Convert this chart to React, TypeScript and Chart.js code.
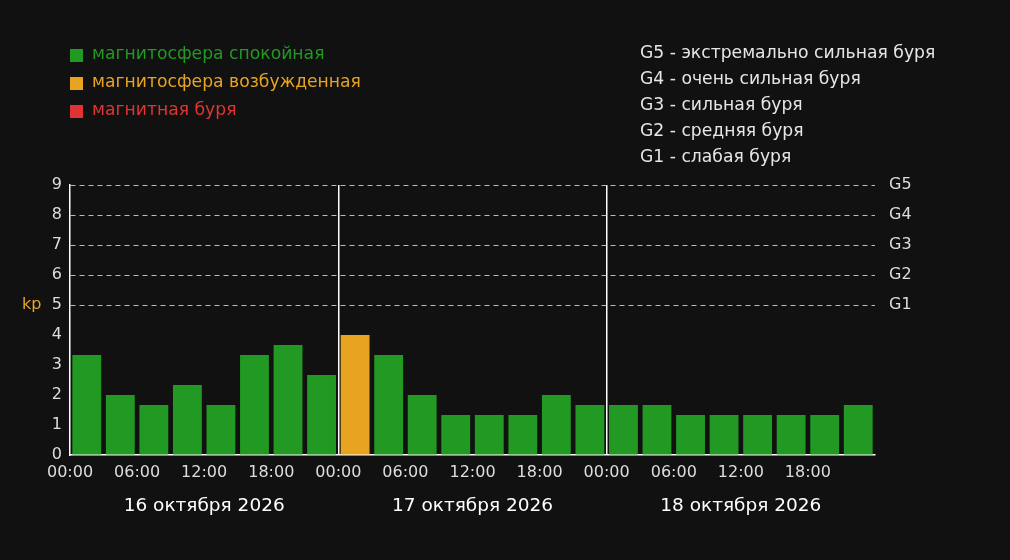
import React, { useEffect, useRef } from "react";
import { Chart, registerables } from "chart.js";

Chart.register(...registerables);

// Three-hour Kp index, three days of 8 intervals each
const kpValues = [
  3.33, 2, 1.67, 2.33, 1.67, 3.33, 3.67, 2.67,
  4, 3.33, 2, 1.33, 1.33, 1.33, 2, 1.67,
  1.67, 1.67, 1.33, 1.33, 1.33, 1.33, 1.33, 1.67,
];
const timeLabels = ["00:00", "06:00", "12:00", "18:00"];
const dayLabels = ["16 октября 2026", "17 октября 2026", "18 октября 2026"];
const stormLevels = ["G1", "G2", "G3", "G4", "G5"]; // kp 5..9
const stateLabels = ["магнитосфера спокойная", "магнитосфера возбужденная", "магнитная буря"];
const stateColors = ["#229922", "#e8a321", "#e03434"];
const stormLegend = [
  "G5 - экстремально сильная буря",
  "G4 - очень сильная буря",
  "G3 - сильная буря",
  "G2 - средняя буря",
  "G1 - слабая буря",
];

const FONT = "'DejaVu Sans', 'Noto Sans', sans-serif";
const BG = "#111111";

const colorFor = (v: number) => (v >= 5 ? stateColors[2] : v >= 4 ? stateColors[1] : stateColors[0]);

const overlay = {
  id: "kpOverlay",
  afterDraw(chart: any) {
    const { ctx } = chart;
    const x = chart.scales.x;
    const y = chart.scales.y;
    ctx.save();
    ctx.font = `17.2px ${FONT}`;
    ctx.textAlign = "left";
    ctx.textBaseline = "alphabetic";
    // state legend
    stateLabels.forEach((t, i) => {
      ctx.fillStyle = stateColors[i];
      ctx.fillRect(70, 49 + i * 28, 13, 13);
      ctx.fillText(t, 92, 59 + i * 28);
    });
    // storm scale legend
    ctx.fillStyle = "#e6e6e6";
    stormLegend.forEach((t, i) => ctx.fillText(t, 640, 58 + i * 26));
    // kp axis label
    ctx.font = `16px ${FONT}`;
    ctx.fillStyle = stateColors[1];
    ctx.textBaseline = "middle";
    ctx.fillText("kp", 22, y.getPixelForValue(5));
    // day labels
    ctx.fillStyle = "#ffffff";
    ctx.font = `18.5px ${FONT}`;
    ctx.textAlign = "center";
    ctx.textBaseline = "alphabetic";
    dayLabels.forEach((t, d) => ctx.fillText(t, x.getPixelForValue(4 + d * 8), 511));
    ctx.restore();
  },
};

export default function App() {
  const ref = useRef<HTMLCanvasElement | null>(null);

  useEffect(() => {
    if (!ref.current) return;
    Chart.defaults.font.family = FONT;
    const chart = new Chart(ref.current, {
      type: "bar",
      data: {
        datasets: [
          {
            data: kpValues.map((v, i) => ({ x: i + 0.5, y: v })),
            backgroundColor: kpValues.map(colorFor),
            barPercentage: 0.86,
            categoryPercentage: 1,
          },
        ],
      },
      options: {
        animation: false,
        responsive: false,
        maintainAspectRatio: false,
        layout: { padding: { top: 185, left: 0, right: 0, bottom: 0 } },
        plugins: { legend: { display: false }, tooltip: { enabled: false } },
        scales: {
          x: {
            type: "linear",
            min: 0,
            max: 24,
            offset: false,
            afterFit: (s: any) => {
              s.height = 105;
            },
            ticks: {
              stepSize: 2,
              autoSkip: false,
              maxRotation: 0,
              color: "#dddddd",
              font: { size: 16 },
              padding: 8,
              callback: (v: any) => (v < 24 ? timeLabels[(v / 2) % 4] : ""),
            },
            grid: {
              offset: false,
              drawTicks: false,
              color: (c: any) => (c.tick && (c.tick.value === 8 || c.tick.value === 16) ? "#ffffff" : "rgba(0,0,0,0)"),
              lineWidth: 1.5,
            },
            border: { display: true, color: "#ffffff", width: 1.5 },
          },
          y: {
            position: "left",
            min: 0,
            max: 9,
            afterFit: (s: any) => {
              s.width = 70;
            },
            ticks: { stepSize: 1, color: "#dddddd", font: { size: 16 }, padding: 8 },
            grid: {
              drawTicks: false,
              color: (c: any) => (c.tick && c.tick.value >= 5 ? "#bbbbbb" : "rgba(0,0,0,0)"),
              lineWidth: 1,
            },
            border: { display: true, color: "#ffffff", width: 1.5, dash: [5, 4] },
          },
          g: {
            position: "right",
            min: 0,
            max: 9,
            afterFit: (s: any) => {
              s.width = 135;
            },
            ticks: {
              stepSize: 1,
              color: "#dddddd",
              font: { size: 16 },
              padding: 14,
              callback: (v: any) => (v >= 5 ? stormLevels[v - 5] : ""),
            },
            grid: { display: false, drawTicks: false },
            border: { display: false },
          },
        },
      },
      plugins: [overlay],
    });
    return () => chart.destroy();
  }, []);

  return (
    <div style={{ position: "absolute", left: 0, top: 0, width: 1010, height: 560, background: BG }}>
      <canvas ref={ref} width={1010} height={560} style={{ display: "block" }} />
    </div>
  );
}
